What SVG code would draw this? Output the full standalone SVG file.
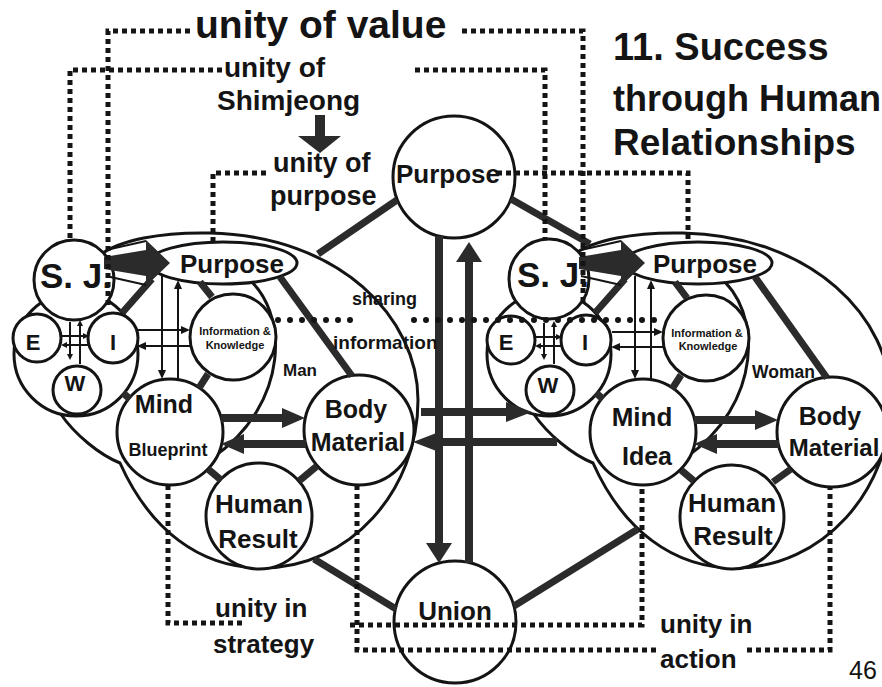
<svg xmlns="http://www.w3.org/2000/svg" width="882" height="687" viewBox="0 0 882 687">
<defs>
<style>
text{font-family:"Liberation Sans",Arial,Helvetica,sans-serif;font-weight:bold;fill:#141414}
.c{text-anchor:middle}
.reg{font-weight:normal}
.n{fill:#fff;stroke:#141414;stroke-width:3}
.ol{fill:none;stroke:#141414;stroke-width:3}
.tk{fill:none;stroke:#2b2b2b;stroke-width:7}
.big{fill:none;stroke:#2b2b2b;stroke-width:8}
.th{fill:none;stroke:#141414;stroke-width:2}
.ds{fill:none;stroke:#141414;stroke-width:5;stroke-dasharray:5 4}
.dt{fill:none;stroke:#141414;stroke-width:6;stroke-linecap:round;stroke-dasharray:0 12}
.hd{fill:#2b2b2b}
</style>
<marker id="mc" markerUnits="userSpaceOnUse" markerWidth="20" markerHeight="26" refX="4" refY="13" orient="auto"><path d="M0,0 L20,13 L0,26 Z" fill="#2b2b2b"/></marker>
<marker id="mh" markerUnits="userSpaceOnUse" markerWidth="26" markerHeight="20" refX="4" refY="10" orient="auto"><path d="M0,0 L26,10 L0,20 Z" fill="#2b2b2b"/></marker>
<marker id="mm" markerUnits="userSpaceOnUse" markerWidth="23" markerHeight="20" refX="4" refY="10" orient="auto"><path d="M0,0 L23,10 L0,20 Z" fill="#2b2b2b"/></marker>
<marker id="mt" markerUnits="userSpaceOnUse" markerWidth="9" markerHeight="8" refX="2" refY="4" orient="auto"><path d="M0,0 L9,4 L0,8 Z" fill="#141414"/></marker>
<marker id="ms" markerUnits="userSpaceOnUse" markerWidth="6" markerHeight="6" refX="1" refY="3" orient="auto"><path d="M0,0 L6,3 L0,6 Z" fill="#141414"/></marker>
</defs>

<!-- LEFT PERSON (Man) -->
<g id="man">
  <g id="man-outline">
    <path class="ol" d="M60,413 C75,435 100,455 120,463 C150,530 200,568 262,568 C350,568 418,490 418,400 C418,318 340,236 210,233 C160,232 120,240 100,255 C50,290 40,380 60,413 Z"/>
    <path class="ol" d="M245,276 C290,310 290,405 212,458"/>
    <text x="283" y="376" font-size="17">Man</text>
  </g>
  <g id="man-eiw"><circle class="n" cx="76" cy="354" r="62"/></g>
  <g id="man-sj"><circle class="n" cx="74" cy="280" r="40"/><text x="40" y="288" font-size="35">S. J.</text></g>
  <g id="man-e"><circle class="n" cx="37" cy="338" r="24"/><text class="c" x="33" y="350" font-size="22">E</text></g>
  <g id="man-i"><circle class="n" cx="113" cy="338" r="25"/><text class="c" x="113" y="350" font-size="22">I</text></g>
  <g id="man-w"><circle class="n" cx="77" cy="390" r="24"/><text class="c" x="75" y="391" font-size="22">W</text></g>
  <g id="man-purpose"><ellipse class="n" cx="223" cy="263" rx="74" ry="21"/><text class="c" x="232" y="273" font-size="26">Purpose</text></g>
  <g id="man-info"><circle class="n" cx="233" cy="337" r="43"/><text class="c" x="235" y="335" font-size="11">Information &amp;</text><text class="c" x="235" y="349" font-size="11">Knowledge</text></g>
  <g id="man-mind"><circle class="n" cx="170" cy="432" r="53"/><text class="c" x="164" y="413" font-size="25">Mind</text><text class="c" x="168" y="456" font-size="18">Blueprint</text></g>
  <g id="man-body"><circle class="n" cx="359" cy="430" r="55"/><text class="c" x="356" y="418" font-size="25">Body</text><text class="c" x="358" y="451" font-size="25">Material</text></g>
  <g id="man-human"><circle class="n" cx="259" cy="516" r="53"/><text class="c" x="259" y="513" font-size="26">Human</text><text class="c" x="258" y="548" font-size="26">Result</text></g>
</g>

<!-- RIGHT PERSON (Woman) -->
<g id="woman" transform="translate(473,0)">
  <g id="woman-outline">
    <path class="ol" d="M60,413 C75,435 100,455 120,463 C150,530 200,568 262,568 C350,568 418,490 418,400 C418,318 340,236 210,233 C160,232 120,240 100,255 C50,290 40,380 60,413 Z"/>
    <path class="ol" d="M245,276 C290,310 290,405 212,458"/>
    <text x="279" y="378" font-size="17.5">Woman</text>
  </g>
  <g id="woman-eiw"><circle class="n" cx="76" cy="354" r="62"/></g>
  <g id="woman-sj"><circle class="n" cx="76" cy="279" r="40"/><text x="44" y="287" font-size="35">S. J.</text></g>
  <g id="woman-e"><circle class="n" cx="38" cy="340" r="24"/><text class="c" x="33" y="350" font-size="22">E</text></g>
  <g id="woman-i"><circle class="n" cx="113" cy="340" r="25"/><text class="c" x="112" y="350" font-size="22">I</text></g>
  <g id="woman-w"><circle class="n" cx="77" cy="390" r="24"/><text class="c" x="75" y="393" font-size="22">W</text></g>
  <g id="woman-purpose"><ellipse class="n" cx="225" cy="263" rx="74" ry="21"/><text class="c" x="232" y="273" font-size="26">Purpose</text></g>
  <g id="woman-info"><circle class="n" cx="233" cy="338" r="43"/><text class="c" x="234" y="337" font-size="11">Information &amp;</text><text class="c" x="235" y="350" font-size="11">Knowledge</text></g>
  <g id="woman-mind"><circle class="n" cx="170" cy="432" r="53"/><text class="c" x="169" y="426" font-size="26">Mind</text><text class="c" x="174" y="465" font-size="25">Idea</text></g>
  <g id="woman-body"><circle class="n" cx="359" cy="432" r="55"/><text class="c" x="357" y="425" font-size="25">Body</text><text class="c" x="361" y="456" font-size="24">Material</text></g>
  <g id="woman-human"><circle class="n" cx="259" cy="517" r="52"/><text class="c" x="259" y="512" font-size="26">Human</text><text class="c" x="260" y="545" font-size="26">Result</text></g>
</g>

<!-- CENTER NODES -->
<g id="purpose-center"><circle class="n" cx="454" cy="177" r="61"/><text class="c" x="448" y="183" font-size="26">Purpose</text></g>
<g id="union"><circle class="n" cx="455" cy="622" r="61"/><text class="c" x="455" y="620" font-size="26">Union</text></g>

<!-- CONNECTORS -->
<g id="connectors">
  <g id="conn-man">
    <path class="th" d="M162,276 V372" marker-end="url(#mt)"/>
    <path class="th" d="M178,380 V287" marker-end="url(#mt)"/>
    <path class="th" d="M137,330 H183" marker-end="url(#mt)"/>
    <path class="th" d="M190,346 H144" marker-end="url(#mt)"/>
    <path class="th" d="M70,322 V355" stroke-width="1.5" marker-end="url(#ms)"/>
    <path class="th" d="M80,364 V325" stroke-width="1.5" marker-end="url(#ms)"/>
    <path class="th" d="M61,336 H84" stroke-width="1.5" marker-end="url(#ms)"/>
    <path class="th" d="M88,345 H66" stroke-width="1.5" marker-end="url(#ms)"/>
    <path class="tk" d="M200,282 L212,297"/>
    <path class="tk" d="M208,374 L199,388"/>
    <path class="tk" d="M208,469 L221,480"/>
    <path class="tk" d="M317,466 L299,481"/>
    <path class="tk" d="M280,277 L352,376"/>
    <path class="tk" d="M122,313 L152,279"/>
    <path class="tk" d="M123,393 L130,399"/>
    <polygon class="hd" points="104,257 146,250 146,240 170,263 146,286 146,276 104,269"/>
    <path class="th" d="M106,250 L146,241 M106,276 L146,285"/>
    <path class="big" stroke-width="7" d="M221,418 H286" marker-end="url(#mm)"/>
    <path class="big" stroke-width="7" d="M306,444 H240" marker-end="url(#mm)"/>
  </g>
  <g id="conn-woman" transform="translate(473,0)">
    <path class="th" d="M162,276 V372" marker-end="url(#mt)"/>
    <path class="th" d="M178,380 V287" marker-end="url(#mt)"/>
    <path class="th" d="M139,332 H183" marker-end="url(#mt)"/>
    <path class="th" d="M190,347 H145" marker-end="url(#mt)"/>
    <path class="th" d="M71,323 V355" stroke-width="1.5" marker-end="url(#ms)"/>
    <path class="th" d="M81,364 V326" stroke-width="1.5" marker-end="url(#ms)"/>
    <path class="th" d="M62,337 H84" stroke-width="1.5" marker-end="url(#ms)"/>
    <path class="th" d="M88,346 H67" stroke-width="1.5" marker-end="url(#ms)"/>
    <path class="tk" d="M202,282 L214,298"/>
    <path class="tk" d="M208,375 L199,389"/>
    <path class="tk" d="M208,470 L221,481"/>
    <path class="tk" d="M318,469 L300,482"/>
    <path class="tk" d="M282,277 L354,378"/>
    <path class="tk" d="M122,313 L152,279"/>
    <path class="tk" d="M123,393 L130,399"/>
    <polygon class="hd" points="106,257 148,250 148,240 172,263 148,286 148,276 106,269"/>
    <path class="th" d="M108,250 L148,241 M108,276 L148,285"/>
    <path class="big" stroke-width="7" d="M221,420 H286" marker-end="url(#mm)"/>
    <path class="big" stroke-width="7" d="M306,444 H240" marker-end="url(#mm)"/>
  </g>
  <path class="tk" d="M397,200 L318,254"/>
  <path class="tk" d="M511,199 L590,244"/>
  <path class="tk" d="M396,609 L314,559"/>
  <path class="tk" d="M514,606 L638,529"/>
  <path class="big" d="M439,236 V547" marker-end="url(#mc)"/>
  <path class="big" d="M469,563 V258" marker-end="url(#mc)"/>
  <path class="big" stroke-width="7" d="M421,412 H510" marker-end="url(#mh)"/>
  <path class="big" stroke-width="7" d="M557,442 H435" marker-end="url(#mh)"/>
  <polygon class="hd" points="315,115 325,115 325,136 341,136 320,153 298,136 315,136"/>
  <path class="ds" d="M190,31 H108 V306"/>
  <path class="ds" d="M462,31 H583 V306"/>
  <path class="ds" d="M222,70 H70 V240"/>
  <path class="ds" d="M415,70 H545 V240"/>
  <path class="ds" d="M266,173 H213 V242"/>
  <path class="ds" d="M497,173 H688 V242"/>
  <path class="ds" d="M168,485 V623 H243"/>
  <path class="ds" d="M357,485 V650 H657"/>
  <path class="ds" d="M747,650 H830 V487"/>
  <path class="ds" d="M350,625 H642 V484"/>
  <path class="dt" d="M278,320 H362"/>
  <path class="dt" d="M414,320 H665"/>
</g>

<!-- LABELS -->
<g id="labels">
  <text x="195" y="38" font-size="39">unity of value</text>
  <text x="224" y="77" font-size="28">unity of</text>
  <text x="217" y="110" font-size="28">Shimjeong</text>
  <text x="273" y="172" font-size="27">unity of</text>
  <text x="270" y="205" font-size="27">purpose</text>
  <text x="613" y="60" font-size="38">11. Success</text>
  <text x="613" y="111" font-size="36">through Human</text>
  <text x="613" y="155" font-size="37">Relationships</text>
  <text x="352" y="305" font-size="18">sharing</text>
  <text x="333" y="349" font-size="19">information</text>
  <text x="215" y="617" font-size="26">unity in</text>
  <text x="213" y="653" font-size="26">strategy</text>
  <text x="660" y="633" font-size="26">unity in</text>
  <text x="660" y="668" font-size="26">action</text>
  <text class="reg" x="849" y="679" font-size="25">46</text>
</g>
</svg>
